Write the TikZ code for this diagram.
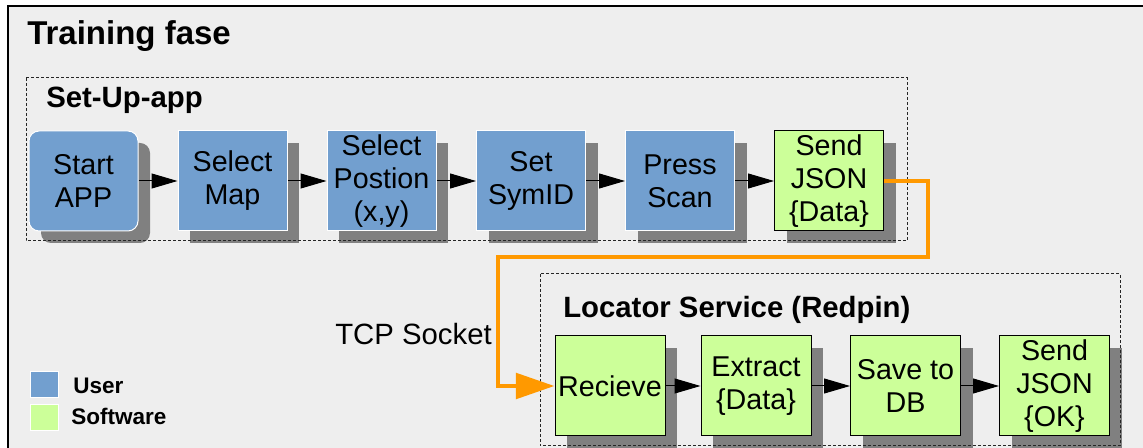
\documentclass[tikz,border=0pt]{standalone}
\usepackage{fontspec}
\setmainfont{Liberation Sans}
\usetikzlibrary{arrows.meta,shadows}
\definecolor{panelbg}{RGB}{238,238,238}
\definecolor{userblue}{RGB}{114,159,207}
\definecolor{softgreen}{RGB}{204,255,153}
\definecolor{shadegray}{RGB}{128,128,128}
\definecolor{wireorange}{RGB}{255,153,0}
\tikzset{
  boxbase/.style={minimum width=81.75pt, minimum height=75pt, inner sep=0pt,
    align=center, font=\fontsize{21.5}{24.75}\selectfont,
    drop shadow={shadow xshift=9pt, shadow yshift=-9pt, fill=shadegray, opacity=1}},
  userbox/.style={boxbase, fill=userblue, draw=white, line width=0.75pt},
  softbox/.style={boxbase, fill=softgreen, draw=black, line width=0.75pt},
  groupframe/.style={draw=black!85, line width=0.75pt, dash pattern=on 2.25pt off 1.5pt},
  flow/.style={draw=black, line width=0.75pt, -{Triangle[length=19.5pt, width=11.25pt]}},
  socket/.style={draw=wireorange, line width=3.4pt, line join=miter,
    -{Triangle[length=29pt, width=19pt]}},
  heading/.style={anchor=base west, inner sep=0pt, font=\bfseries\fontsize{22}{26}\selectfont},
  legendkey/.style={draw=white, line width=0.75pt, minimum width=21pt, minimum height=19.5pt, inner sep=0pt},
  legendtext/.style={anchor=base west, inner sep=0pt, font=\bfseries\fontsize{16.9}{20}\selectfont}
}
\begin{document}
\begin{tikzpicture}[x=0.75pt, y=-0.75pt]
  \useasboundingbox (0,0) rectangle (1143,448);
  % outer panel
  \fill[white] (0,0) rectangle (1143,448);
  \draw[fill=panelbg, line width=1.5pt] (8,6) rectangle (1170,470);
  \node[anchor=base west, inner sep=0pt, font=\bfseries\fontsize{24.75}{28}\selectfont] (title) at (27,45) {Training fase};

  % set-up app steps
  \node[heading] (setuplbl) at (46,108) {Set-Up-app};
  \node[userbox, rounded corners=7.5pt] (start) at (83.5,181) {Start\\APP};
  \node[userbox] (map) at (232.5,181) {Select\\Map};
  \node[userbox] (pos) at (381.5,181) {Select\\Postion\\(x,y)};
  \node[userbox] (sym) at (531,181) {Set\\SymID};
  \node[userbox] (scan) at (680,181) {Press\\Scan};
  \node[softbox] (sendjson) at (829,181) {Send\\JSON\\\{Data\}};

  % locator service steps
  \node[heading] (loclbl) at (563,318) {Locator Service (Redpin)};
  \node[softbox, minimum width=82.5pt] (recv) at (610,386) {Recieve};
  \node[softbox, minimum width=82.5pt] (extract) at (756,386) {Extract\\\{Data\}};
  \node[softbox, minimum width=82.5pt] (save) at (905.5,386) {Save to\\DB};
  \node[softbox, minimum width=82.5pt] (sendok) at (1054.5,386) {Send\\JSON\\\{OK\}};

  % group frames
  \draw[groupframe] (26,78) rectangle (907,241);
  \draw[groupframe] (540,274) rectangle (1120,446);

  % flow arrows
  \draw[flow] (start) -- (map);
  \draw[flow] (map) -- (pos);
  \draw[flow] (pos) -- (sym);
  \draw[flow] (sym) -- (scan);
  \draw[flow] (scan) -- (sendjson);
  \draw[flow] (recv) -- (extract);
  \draw[flow] (extract) -- (save);
  \draw[flow] (save) -- (sendok);

  % TCP socket link
  \coordinate (bendr) at (928,257);
  \coordinate (bendl) at (498,257);
  \draw[socket] (sendjson.east) -| (bendr) -- (bendl) |- (recv.west);
  \node[anchor=base west, inner sep=0pt, font=\fontsize{22}{26}\selectfont] (tcp) at (335,345) {TCP Socket};

  % legend
  \node[legendkey, fill=userblue] (keyuser) at (44,385) {};
  \node[legendkey, fill=softgreen] (keysoft) at (44,417.5) {};
  \node[legendtext] (lbluser) at (73,394) {User};
  \node[legendtext] (lblsoft) at (71,425) {Software};
\end{tikzpicture}
\end{document}
